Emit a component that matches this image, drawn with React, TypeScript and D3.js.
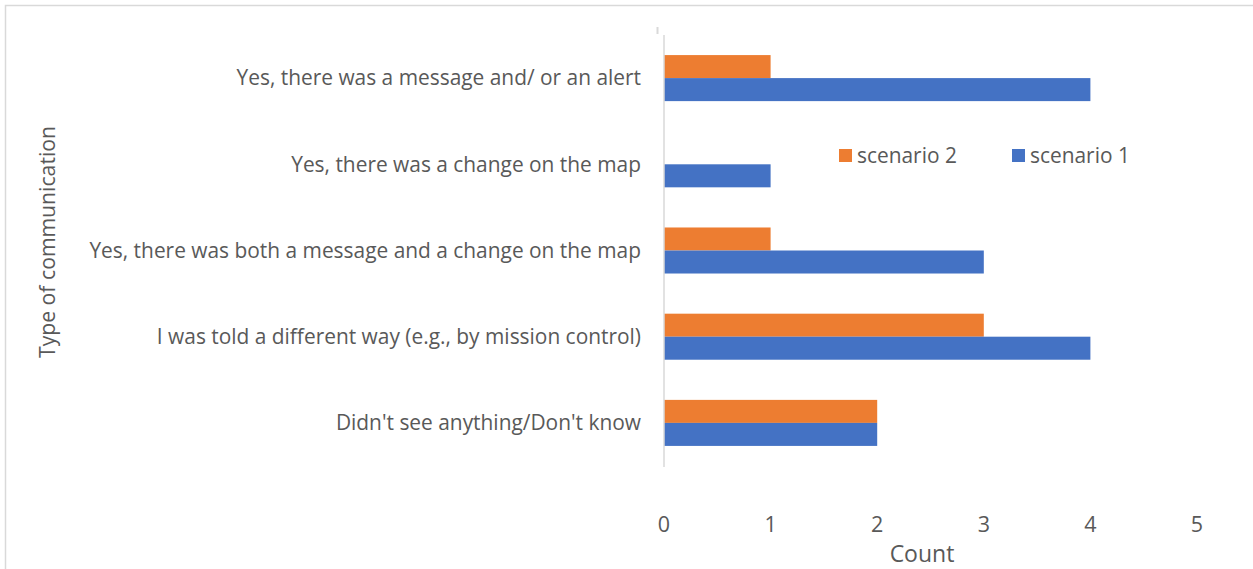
import React, { useEffect, useRef } from 'react';
import * as d3 from 'd3';

const categories = [
  'Yes, there was a message and/ or an alert',
  'Yes, there was a change on the map',
  'Yes, there was both a message and a change on the map',
  'I was told a different way (e.g., by mission control)',
  "Didn't see anything/Don't know",
];
const scenario1 = [4, 1, 3, 4, 2];
const scenario2 = [1, 0, 1, 3, 2];
const seriesNames = ['scenario 2', 'scenario 1'];
const xTicks = [0, 1, 2, 3, 4, 5];

const width = 1253;
const height = 569;
const FONT = '"Open Sans", sans-serif';
const TEXT = '#595959';

export default function App() {
  const svgRef = useRef<SVGSVGElement>(null);

  useEffect(() => {
    const svg = d3.select(svgRef.current);
    svg.selectAll('*').remove();

    // outer frame
    svg.append('rect')
      .attr('x', 5.5).attr('y', 5.5)
      .attr('width', 1300).attr('height', 700)
      .attr('fill', 'none').attr('stroke', '#d9d9d9').attr('stroke-width', 1.5);

    const x = d3.scaleLinear().domain([0, 5]).range([664, 1197]);
    const y = d3.scaleBand().domain(categories).range([35, 466]).padding(0);
    const barH = y.bandwidth() * 0.267;

    const rows = categories.map((c, i) => ({ c, s1: scenario1[i], s2: scenario2[i] }));

    const g = svg.append('g');

    // scenario 2 (orange, above)
    g.selectAll('rect.s2')
      .data(rows)
      .enter()
      .append('rect')
      .attr('x', x(0))
      .attr('y', d => (y(d.c) as number) + y.bandwidth() / 2 - barH)
      .attr('width', d => x(d.s2) - x(0))
      .attr('height', barH)
      .attr('fill', '#ED7D31');

    // scenario 1 (blue, below)
    g.selectAll('rect.s1')
      .data(rows)
      .enter()
      .append('rect')
      .attr('x', x(0))
      .attr('y', d => (y(d.c) as number) + y.bandwidth() / 2)
      .attr('width', d => x(d.s1) - x(0))
      .attr('height', barH)
      .attr('fill', '#4472C4');

    // vertical axis line
    svg.append('line')
      .attr('x1', x(0)).attr('x2', x(0))
      .attr('y1', 35).attr('y2', 467)
      .attr('stroke', '#d9d9d9').attr('stroke-width', 1.5);
    svg.append('line')
      .attr('x1', 657.5).attr('x2', 657.5)
      .attr('y1', 27).attr('y2', 34)
      .attr('stroke', '#d9d9d9').attr('stroke-width', 2);

    // category labels
    svg.selectAll('text.cat')
      .data(categories)
      .enter()
      .append('text')
      .attr('x', 641)
      .attr('y', d => (y(d) as number) + y.bandwidth() / 2)
      .attr('dy', '0.35em')
      .attr('text-anchor', 'end')
      .attr('fill', TEXT)
      .style('font-family', FONT)
      .style('font-size', '20.9px')
      .text(d => d);

    // x tick labels
    svg.selectAll('text.tick')
      .data(xTicks)
      .enter()
      .append('text')
      .attr('x', d => x(d))
      .attr('y', 524)
      .attr('dy', '0.35em')
      .attr('text-anchor', 'middle')
      .attr('fill', TEXT)
      .style('font-family', FONT)
      .style('font-size', '21.5px')
      .text(d => d);

    svg.append('text')
      .attr('x', 922).attr('y', 554).attr('dy', '0.35em')
      .attr('text-anchor', 'middle')
      .attr('fill', TEXT)
      .style('font-family', FONT)
      .style('font-size', '23px')
      .text('Count');

    svg.append('text')
      .attr('transform', 'translate(48,242) rotate(-90)')
      .attr('dy', '0.35em')
      .attr('text-anchor', 'middle')
      .attr('fill', TEXT)
      .style('font-family', FONT)
      .style('font-size', '21.2px')
      .text('Type of communication');

    // legend
    const legendX = [839, 1012];
    const colors = ['#ED7D31', '#4472C4'];
    const lg = svg.append('g');
    seriesNames.forEach((name, i) => {
      lg.append('rect')
        .attr('x', legendX[i]).attr('y', 149)
        .attr('width', 13).attr('height', 13)
        .attr('fill', colors[i]);
      lg.append('text')
        .attr('x', legendX[i] + 18).attr('y', 156).attr('dy', '0.35em')
        .attr('fill', TEXT)
        .style('font-family', FONT)
        .style('font-size', '20.9px')
        .text(name);
    });
  }, []);

  return (
    <svg
      ref={svgRef}
      width={width}
      height={height}
      style={{ position: 'absolute', left: 0, top: 0, background: '#fff' }}
    />
  );
}
